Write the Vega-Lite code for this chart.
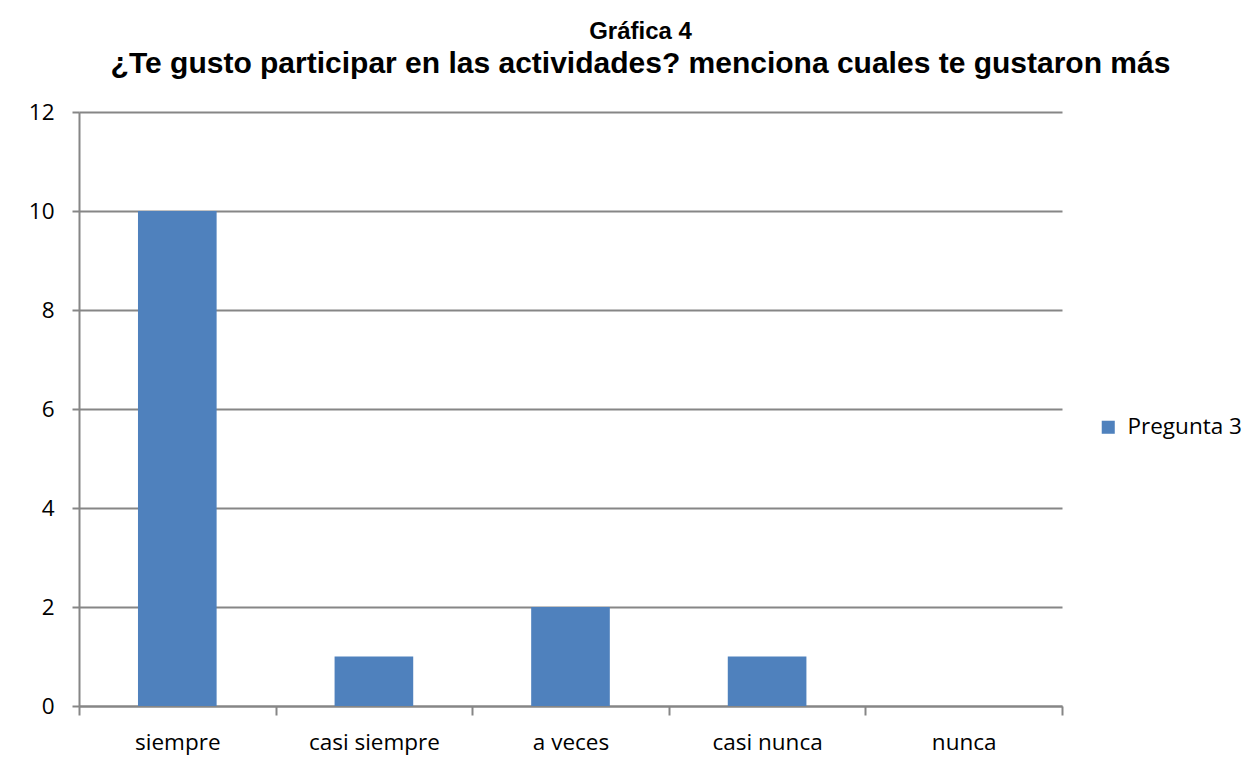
{
  "$schema": "https://vega.github.io/schema/vega-lite/v6.json",
  "width": 983,
  "height": 594,
  "autosize": {"type": "none"},
  "padding": {"left": 79, "top": 112, "right": 196, "bottom": 61},
  "background": "white",
  "title": {
    "text": "Gráfica 4",
    "subtitle": "¿Te gusto participar en las actividades? menciona cuales te gustaron más",
    "anchor": "middle",
    "frame": "group",
    "dx": 70,
    "font": "Liberation Sans",
    "fontSize": 24,
    "fontWeight": "bold",
    "color": "#000000",
    "subtitleFont": "Liberation Sans",
    "subtitleFontSize": 30,
    "subtitleFontWeight": "bold",
    "subtitleColor": "#000000",
    "subtitlePadding": 5,
    "offset": 22
  },
  "data": {
    "values": [
      {"categoria": "siempre", "valor": 10, "serie": "Pregunta 3"},
      {"categoria": "casi siempre", "valor": 1, "serie": "Pregunta 3"},
      {"categoria": "a veces", "valor": 2, "serie": "Pregunta 3"},
      {"categoria": "casi nunca", "valor": 1, "serie": "Pregunta 3"},
      {"categoria": "nunca", "valor": 0, "serie": "Pregunta 3"}
    ]
  },
  "mark": {"type": "bar", "width": {"band": 0.4}},
  "encoding": {
    "x": {
      "field": "categoria",
      "type": "nominal",
      "sort": null,
      "scale": {"paddingInner": 0, "paddingOuter": 0},
      "axis": {
        "title": null,
        "labelAngle": 0,
        "tickBand": "extent",
        "grid": false,
        "domainColor": "#868686",
        "domainWidth": 2,
        "tickColor": "#868686",
        "tickWidth": 2,
        "tickSize": 9,
        "labelFont": "Open Sans",
        "labelFontSize": 22.5,
        "labelColor": "#000000",
        "labelPadding": 16
      }
    },
    "y": {
      "field": "valor",
      "type": "quantitative",
      "scale": {"domain": [0, 12], "nice": false},
      "axis": {
        "title": null,
        "values": [0, 2, 4, 6, 8, 10, 12],
        "grid": true,
        "gridColor": "#868686",
        "gridWidth": 2,
        "gridOpacity": 1,
        "domainColor": "#868686",
        "domainWidth": 2,
        "tickColor": "#868686",
        "tickWidth": 2,
        "tickSize": 7,
        "labelFont": "Open Sans",
        "labelFontSize": 22.5,
        "labelColor": "#000000",
        "labelPadding": 18
      }
    },
    "color": {
      "field": "serie",
      "type": "nominal",
      "scale": {"range": ["#4F81BD"]},
      "legend": {
        "title": null,
        "orient": "none",
        "legendX": 1018,
        "legendY": 304,
        "symbolType": "square",
        "symbolSize": 170,
        "symbolOpacity": 1,
        "labelFont": "Open Sans",
        "labelFontSize": 22.5,
        "labelColor": "#000000",
        "labelOffset": 8
      }
    }
  },
  "config": {
    "view": {"stroke": null}
  }
}
